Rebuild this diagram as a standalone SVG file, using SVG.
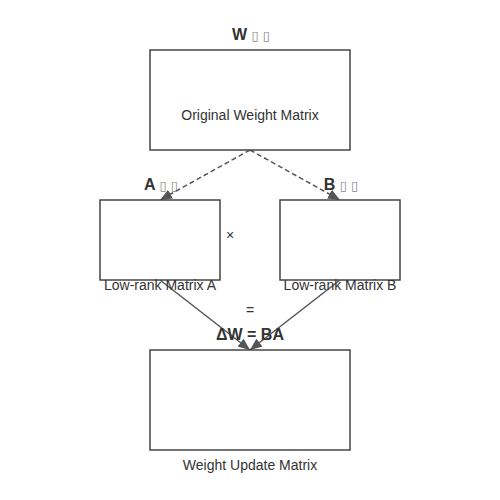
<svg xmlns="http://www.w3.org/2000/svg" width="500" height="500" viewBox="0 0 500 500">
<style>
.box{fill:#fff;stroke:#444;stroke-width:1.5}
.t{font-family:"Liberation Sans",Arial,sans-serif;font-size:14px;fill:#333;text-anchor:middle}
.b{font-family:"Liberation Sans",Arial,sans-serif;font-size:16px;font-weight:bold;fill:#333;text-anchor:middle}
.s{font-family:"DejaVu Sans",sans-serif;font-size:13px;font-weight:normal;fill:#888}
.c{stroke:#555;stroke-width:1.5;fill:none}
.d{stroke-dasharray:5,3}
</style>
<defs>
<marker id="ah" markerWidth="12" markerHeight="10" refX="12" refY="5" orient="auto" markerUnits="userSpaceOnUse" viewBox="0 0 12 10">
<path d="M0,0 L12,5 L0,10 z" fill="#555"/>
</marker>
</defs>
<rect width="500" height="500" fill="#fff"/>
<g id="connectors">
<line class="c d" x1="250" y1="150" x2="160" y2="200" marker-end="url(#ah)"/>
<line class="c d" x1="250" y1="150" x2="340" y2="200" marker-end="url(#ah)"/>
<line class="c" x1="160" y1="280" x2="250" y2="350" marker-end="url(#ah)"/>
<line class="c" x1="340" y1="280" x2="250" y2="350" marker-end="url(#ah)"/>
</g>
<g id="W">
<rect class="box" x="150" y="50" width="200" height="100"/>
<text class="b" x="251" y="40">W <tspan class="s">▯ ▯</tspan></text>
<text class="t" x="250" y="120">Original Weight Matrix</text>
</g>
<g id="A">
<rect class="box" x="100" y="200" width="120" height="80"/>
<text class="b" x="161" y="190">A <tspan class="s">▯ ▯</tspan></text>
<text class="t" x="160" y="290">Low-rank Matrix A</text>
</g>
<g id="B">
<rect class="box" x="280" y="200" width="120" height="80"/>
<text class="b" x="341" y="190">B <tspan class="s">▯ ▯</tspan></text>
<text class="t" x="340" y="290">Low-rank Matrix B</text>
</g>
<g id="ops">
<text class="t" x="230" y="240">×</text>
<text class="t" x="250" y="315">=</text>
</g>
<g id="dW">
<rect class="box" x="150" y="350" width="200" height="100"/>
<text class="b" x="250" y="340">ΔW = BA</text>
<text class="t" x="250" y="470">Weight Update Matrix</text>
</g>
</svg>
